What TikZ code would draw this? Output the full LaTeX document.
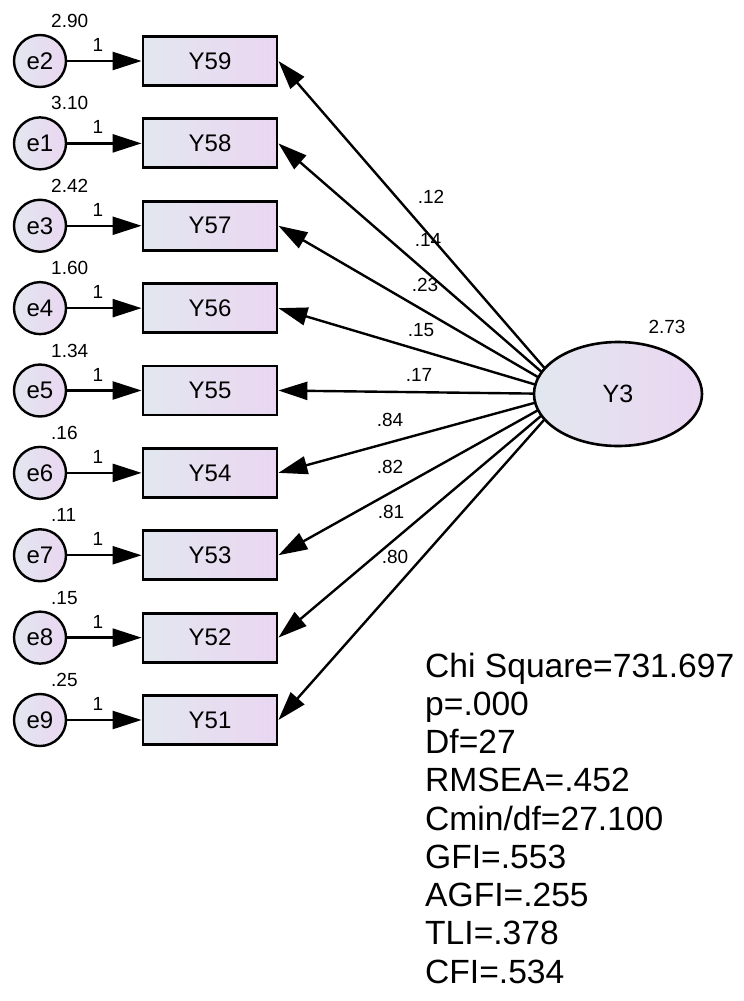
\documentclass[tikz,border=0pt]{standalone}
\usepackage{fontspec}
\setmainfont{Liberation Sans}
\usetikzlibrary{arrows.meta,shapes.geometric,backgrounds}
\definecolor{fillleft}{RGB}{226,231,239}
\definecolor{fillright}{RGB}{234,214,241}
\tikzset{
    obsbox/.style={draw,line width=2.8pt,left color=fillleft,right color=fillright,
        minimum width=134pt,minimum height=49pt,inner sep=0pt,
        font=\fontsize{24}{28}\selectfont},
    errcirc/.style={draw,circle,line width=2.4pt,left color=fillleft,right color=fillright,
        minimum size=52pt,inner sep=0pt,font=\fontsize{24}{28}\selectfont},
    latent/.style={draw,ellipse,line width=2.6pt,left color=fillleft,right color=fillright,
        minimum width=168pt,minimum height=104pt,inner sep=0pt,
        font=\fontsize{25}{29}\selectfont},
    est/.style={inner sep=0pt,font=\fontsize{19}{22}\selectfont},
    fitstat/.style={inner sep=0pt,anchor=base west,font=\fontsize{33.6}{38}\selectfont},
    loadarrow/.style={line width=2.4pt,-{Triangle[length=29pt,width=18pt]}},
}
\begin{document}
\begin{tikzpicture}[x=1pt,y=-1pt]
    \useasboundingbox (0,0) rectangle (744,1001);

    % latent factor
    \node[latent] (Y3) at (618,394) {Y3};
    \node[est] (vY3) at (667,327) {2.73};
    \coordinate (Y3aim) at (567,394);

    % indicators with their error terms
    \foreach \err/\obs/\evar/\lw/\labx/\laby [count=\i from 0] in {
            e2/Y59/2.90/.12/431/197,
            e1/Y58/3.10/.14/428/240,
            e3/Y57/2.42/.23/425/285,
            e4/Y56/1.60/.15/421/330,
            e5/Y55/1.34/.17/419/375,
            e6/Y54/.16/.84/390/420,
            e7/Y53/.11/.82/390/467,
            e8/Y52/.15/.81/391/512,
            e9/Y51/.25/.80/395/557} {
        \pgfmathsetmacro\rowy{61+82.375*\i}
        \node[errcirc] (\err) at (40,\rowy) {\err};
        \node[obsbox] (\obs) at (210,\rowy) {\obs};
        \node[est,anchor=west] (v\err) at (51,\rowy-40) {\evar};
        \node[est] (one\err) at (98,\rowy-16) {1};
        \node[est] (l\obs) at (\labx,\laby) {\lw};
        \draw[loadarrow] (\err) -- (\obs);
        \begin{scope}[on background layer]
            \draw[loadarrow] (Y3aim) -- (\obs.east);
        \end{scope}
    }

    % fit statistics
    \foreach \fit [count=\j from 0] in {Chi Square=731.697, p=.000, Df=27,
            RMSEA=.452, Cmin/df=27.100, GFI=.553, AGFI=.255, TLI=.378, CFI=.534}
        \node[fitstat] (fit\j) at (425,677+38.25*\j) {\fit};
\end{tikzpicture}
\end{document}
